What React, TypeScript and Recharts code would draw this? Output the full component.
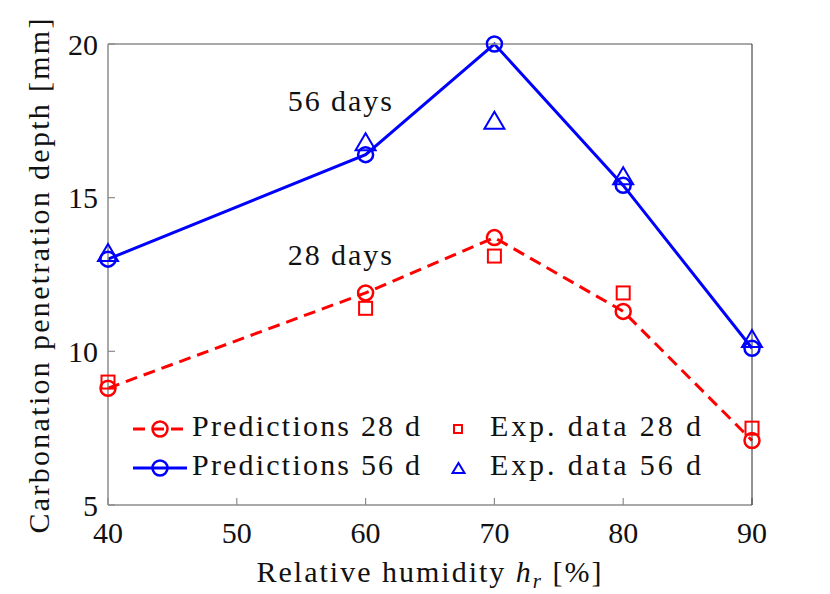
import React from 'react';
import { ComposedChart, Line, XAxis, YAxis, ReferenceDot, Customized } from 'recharts';

// relative humidity [%]
const humidity = [40, 60, 70, 80, 90];
// carbonation depth [mm]
const pred28 = [8.8, 11.9, 13.7, 11.3, 7.1];
const exp28 = [9.0, 11.4, 13.1, 11.9, 7.5];
const pred56 = [13.0, 16.4, 20.0, 15.4, 10.1];
const exp56 = [13.2, 16.8, 17.5, 15.7, 10.4];

const xTicks = [40, 50, 60, 70, 80, 90];
const yTicks = [5, 10, 15, 20];

const data = humidity.map((h, i) => ({
  h,
  pred28: pred28[i],
  exp28: exp28[i],
  pred56: pred56[i],
  exp56: exp56[i],
}));

const FONT = "'Liberation Serif', 'DejaVu Serif', serif";
const FS = 30;
const RED = '#ff0000';
const BLUE = '#0000ff';
const AXIS = '#8c8c8c';
const DARK = '#262626';
const TXT = '#111111';

const txtStyle = { fontFamily: FONT };
const tickStyle = { fontSize: FS, fill: TXT, style: txtStyle };

const circleDot = (color: string) => (p: any) => (
  <circle key={`c-${p.index}`} cx={p.cx} cy={p.cy} r={7.5} fill="none" stroke={color} strokeWidth={2.5} />
);

const squareDot = (p: any) => (
  <rect key={`s-${p.index}`} x={p.cx - 6.5} y={p.cy - 6.5} width={13} height={13} fill="none" stroke={RED} strokeWidth={2} />
);

const triangleDot = (p: any) => (
  <path
    key={`t-${p.index}`}
    d={`M${p.cx},${p.cy - 9} L${p.cx + 10},${p.cy + 8} L${p.cx - 10},${p.cy + 8} Z`}
    fill="none"
    stroke={BLUE}
    strokeWidth={2}
  />
);

const annotation = (text: string) => ({ viewBox }: any) => (
  <text x={viewBox.x} y={viewBox.y} textAnchor="middle" fontSize={FS} style={txtStyle} fill={TXT} textLength={104}>
    {text}
  </text>
);

const xLabel = ({ viewBox }: any) => (
  <text
    x={viewBox.x + viewBox.width / 2}
    y={viewBox.y + 77}
    textAnchor="middle"
    fontSize={FS}
    style={txtStyle}
    fill={TXT}
    letterSpacing={2}
  >
    Relative humidity <tspan fontStyle="italic">h</tspan>
    <tspan fontStyle="italic" fontSize={21} dy={6}>r</tspan>
    <tspan dy={-6}> [%]</tspan>
  </text>
);

const yLabel = () => (
  <text
    transform="rotate(-90)"
    x={-276}
    y={49}
    textAnchor="middle"
    fontSize={FS}
    style={txtStyle}
    fill={TXT}
    textLength={515}
  >
    Carbonation penetration depth [mm]
  </text>
);

// legend drawn without a box, two columns like the original figure
const LegendBox = () => (
  <g style={txtStyle} fontSize={FS} fill={TXT}>
    <line x1={133} y1={429} x2={187} y2={429} stroke={RED} strokeWidth={3} strokeDasharray="12 7" />
    <circle cx={160} cy={429} r={7.5} fill="none" stroke={RED} strokeWidth={2.5} />
    <text x={192} y={436} textLength={228}>Predictions 28 d</text>

    <line x1={133} y1={468} x2={187} y2={468} stroke={BLUE} strokeWidth={3} />
    <circle cx={160} cy={468} r={7.5} fill="none" stroke={BLUE} strokeWidth={2.5} />
    <text x={192} y={475} textLength={228}>Predictions 56 d</text>

    <rect x={454} y={425} width={8} height={8} fill="none" stroke={RED} strokeWidth={2} />
    <text x={490} y={436} textLength={211}>Exp. data 28 d</text>

    <path d="M458.5,463 L464.5,473 L452.5,473 Z" fill="none" stroke={BLUE} strokeWidth={2} />
    <text x={490} y={475} textLength={211}>Exp. data 56 d</text>

    {yLabel()}
  </g>
);

export default function App() {
  return (
    <div style={{ position: 'absolute', left: 0, top: 0, width: 830, height: 594, background: '#fff', fontFamily: FONT }}>
      <ComposedChart width={830} height={594} data={data} margin={{ top: 43, right: 77, bottom: 29, left: 48 }}>
        <XAxis
          dataKey="h"
          type="number"
          domain={[40, 90]}
          ticks={xTicks}
          height={60}
          tickSize={-7}
          tickMargin={24}
          tick={tickStyle}
          axisLine={{ stroke: AXIS, strokeWidth: 1.5 }}
          tickLine={{ stroke: AXIS, strokeWidth: 1.2 }}
          label={{ content: xLabel }}
        />
        <XAxis
          xAxisId="top"
          orientation="top"
          type="number"
          domain={[40, 90]}
          ticks={xTicks}
          height={1}
          tickSize={-7}
          tick={false}
          axisLine={{ stroke: AXIS, strokeWidth: 1.5 }}
          tickLine={{ stroke: AXIS, strokeWidth: 1.2 }}
        />
        <YAxis
          type="number"
          domain={[5, 20]}
          ticks={yTicks}
          width={60}
          tickSize={-7}
          tickMargin={17}
          tick={tickStyle}
          axisLine={{ stroke: AXIS, strokeWidth: 1.5 }}
          tickLine={{ stroke: AXIS, strokeWidth: 1.2 }}
        />
        <YAxis
          yAxisId="right"
          orientation="right"
          type="number"
          domain={[5, 20]}
          ticks={yTicks}
          width={1}
          tickSize={-7}
          tick={false}
          axisLine={{ stroke: DARK, strokeWidth: 1 }}
          tickLine={{ stroke: DARK, strokeWidth: 1 }}
        />

        <Line
          dataKey="pred28"
          stroke={RED}
          strokeWidth={3}
          strokeDasharray="12 7"
          dot={circleDot(RED)}
          activeDot={false}
          isAnimationActive={false}
        />
        <Line
          dataKey="pred56"
          stroke={BLUE}
          strokeWidth={3}
          dot={circleDot(BLUE)}
          activeDot={false}
          isAnimationActive={false}
        />
        <Line dataKey="exp28" stroke="none" dot={squareDot} activeDot={false} isAnimationActive={false} />
        <Line dataKey="exp56" stroke="none" dot={triangleDot} activeDot={false} isAnimationActive={false} />

        <ReferenceDot x={58} y={17.82} r={0} fill="none" stroke="none" label={{ content: annotation('56 days') }} />
        <ReferenceDot x={58} y={12.81} r={0} fill="none" stroke="none" label={{ content: annotation('28 days') }} />

        <Customized component={LegendBox} />
      </ComposedChart>
    </div>
  );
}
